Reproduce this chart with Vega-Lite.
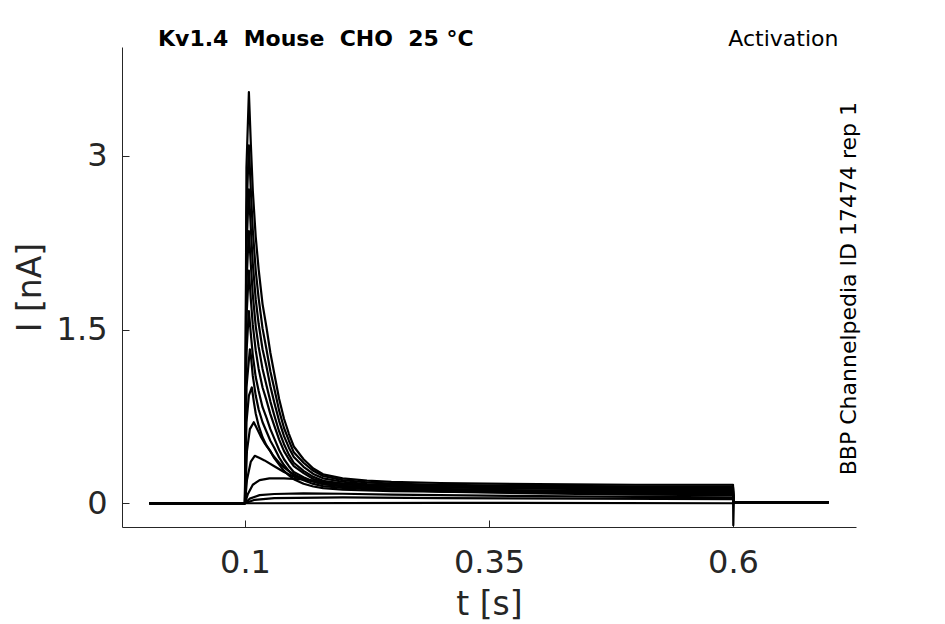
{
  "$schema": "https://vega.github.io/schema/vega-lite/v6.json",
  "description": "Kv1.4 activation current traces",
  "width": 734,
  "height": 480,
  "autosize": {"type": "none"},
  "padding": {"left": 122, "top": 47, "right": 89, "bottom": 97},
  "background": "white",
  "title": {
    "text": "Kv1.4\u00a0\u00a0Mouse\u00a0\u00a0CHO\u00a0\u00a025\u00a0°C",
    "anchor": "start",
    "frame": "group",
    "dx": 36,
    "dy": 40,
    "offset": 0,
    "baseline": "alphabetic",
    "fontSize": 22,
    "fontWeight": "bold",
    "color": "black"
  },
  "layer": [
    {
      "data": {
        "values": [
          {"sweep": 1, "t": 0.002, "I": 0}, {"sweep": 1, "t": 0.1, "I": 0}, {"sweep": 1, "t": 0.1015, "I": 2.9}, {"sweep": 1, "t": 0.104, "I": 3.55},
          {"sweep": 1, "t": 0.106, "I": 3.1}, {"sweep": 1, "t": 0.108, "I": 2.7}, {"sweep": 1, "t": 0.111, "I": 2.3}, {"sweep": 1, "t": 0.114, "I": 2.02},
          {"sweep": 1, "t": 0.118, "I": 1.72}, {"sweep": 1, "t": 0.122, "I": 1.52}, {"sweep": 1, "t": 0.126, "I": 1.3}, {"sweep": 1, "t": 0.13, "I": 1.12},
          {"sweep": 1, "t": 0.135, "I": 0.9}, {"sweep": 1, "t": 0.14, "I": 0.73}, {"sweep": 1, "t": 0.145, "I": 0.6}, {"sweep": 1, "t": 0.15, "I": 0.49},
          {"sweep": 1, "t": 0.16, "I": 0.38}, {"sweep": 1, "t": 0.17, "I": 0.3}, {"sweep": 1, "t": 0.18, "I": 0.25}, {"sweep": 1, "t": 0.2, "I": 0.215},
          {"sweep": 1, "t": 0.225, "I": 0.195}, {"sweep": 1, "t": 0.25, "I": 0.185}, {"sweep": 1, "t": 0.3, "I": 0.175}, {"sweep": 1, "t": 0.4, "I": 0.165},
          {"sweep": 1, "t": 0.5, "I": 0.16}, {"sweep": 1, "t": 0.6, "I": 0.16}, {"sweep": 1, "t": 0.6003, "I": -0.19}, {"sweep": 1, "t": 0.6008, "I": 0.01},
          {"sweep": 1, "t": 0.698, "I": 0.01},

          {"sweep": 2, "t": 0.002, "I": 0}, {"sweep": 2, "t": 0.1, "I": 0}, {"sweep": 2, "t": 0.1015, "I": 2.5}, {"sweep": 2, "t": 0.104, "I": 3.09},
          {"sweep": 2, "t": 0.106, "I": 2.7}, {"sweep": 2, "t": 0.108, "I": 2.36}, {"sweep": 2, "t": 0.111, "I": 2.01}, {"sweep": 2, "t": 0.114, "I": 1.77},
          {"sweep": 2, "t": 0.118, "I": 1.51}, {"sweep": 2, "t": 0.122, "I": 1.33}, {"sweep": 2, "t": 0.126, "I": 1.14}, {"sweep": 2, "t": 0.13, "I": 0.99},
          {"sweep": 2, "t": 0.135, "I": 0.8}, {"sweep": 2, "t": 0.14, "I": 0.65}, {"sweep": 2, "t": 0.145, "I": 0.54}, {"sweep": 2, "t": 0.15, "I": 0.44},
          {"sweep": 2, "t": 0.16, "I": 0.35}, {"sweep": 2, "t": 0.17, "I": 0.28}, {"sweep": 2, "t": 0.18, "I": 0.235}, {"sweep": 2, "t": 0.2, "I": 0.2},
          {"sweep": 2, "t": 0.225, "I": 0.18}, {"sweep": 2, "t": 0.25, "I": 0.17}, {"sweep": 2, "t": 0.3, "I": 0.16}, {"sweep": 2, "t": 0.4, "I": 0.15},
          {"sweep": 2, "t": 0.5, "I": 0.145}, {"sweep": 2, "t": 0.6, "I": 0.145}, {"sweep": 2, "t": 0.6005, "I": 0.01}, {"sweep": 2, "t": 0.698, "I": 0.01},

          {"sweep": 3, "t": 0.002, "I": 0}, {"sweep": 3, "t": 0.1, "I": 0}, {"sweep": 3, "t": 0.1015, "I": 2.2}, {"sweep": 3, "t": 0.104, "I": 2.71},
          {"sweep": 3, "t": 0.106, "I": 2.37}, {"sweep": 3, "t": 0.108, "I": 2.07}, {"sweep": 3, "t": 0.111, "I": 1.76}, {"sweep": 3, "t": 0.114, "I": 1.55},
          {"sweep": 3, "t": 0.118, "I": 1.33}, {"sweep": 3, "t": 0.122, "I": 1.18}, {"sweep": 3, "t": 0.126, "I": 1.01}, {"sweep": 3, "t": 0.13, "I": 0.87},
          {"sweep": 3, "t": 0.135, "I": 0.71}, {"sweep": 3, "t": 0.14, "I": 0.58}, {"sweep": 3, "t": 0.145, "I": 0.48}, {"sweep": 3, "t": 0.15, "I": 0.4},
          {"sweep": 3, "t": 0.16, "I": 0.315}, {"sweep": 3, "t": 0.17, "I": 0.253}, {"sweep": 3, "t": 0.18, "I": 0.215}, {"sweep": 3, "t": 0.2, "I": 0.186},
          {"sweep": 3, "t": 0.225, "I": 0.166}, {"sweep": 3, "t": 0.25, "I": 0.158}, {"sweep": 3, "t": 0.3, "I": 0.151}, {"sweep": 3, "t": 0.4, "I": 0.144},
          {"sweep": 3, "t": 0.5, "I": 0.14}, {"sweep": 3, "t": 0.6, "I": 0.14}, {"sweep": 3, "t": 0.6005, "I": 0.01}, {"sweep": 3, "t": 0.698, "I": 0.01},

          {"sweep": 4, "t": 0.002, "I": 0}, {"sweep": 4, "t": 0.1, "I": 0}, {"sweep": 4, "t": 0.1015, "I": 1.9}, {"sweep": 4, "t": 0.104, "I": 2.35},
          {"sweep": 4, "t": 0.106, "I": 2.06}, {"sweep": 4, "t": 0.108, "I": 1.8}, {"sweep": 4, "t": 0.111, "I": 1.53}, {"sweep": 4, "t": 0.114, "I": 1.35},
          {"sweep": 4, "t": 0.118, "I": 1.16}, {"sweep": 4, "t": 0.122, "I": 1.02}, {"sweep": 4, "t": 0.126, "I": 0.88}, {"sweep": 4, "t": 0.13, "I": 0.76},
          {"sweep": 4, "t": 0.135, "I": 0.62}, {"sweep": 4, "t": 0.14, "I": 0.51}, {"sweep": 4, "t": 0.145, "I": 0.42}, {"sweep": 4, "t": 0.15, "I": 0.35},
          {"sweep": 4, "t": 0.16, "I": 0.28}, {"sweep": 4, "t": 0.17, "I": 0.228}, {"sweep": 4, "t": 0.18, "I": 0.194}, {"sweep": 4, "t": 0.2, "I": 0.17},
          {"sweep": 4, "t": 0.225, "I": 0.152}, {"sweep": 4, "t": 0.25, "I": 0.146}, {"sweep": 4, "t": 0.3, "I": 0.14}, {"sweep": 4, "t": 0.4, "I": 0.133},
          {"sweep": 4, "t": 0.5, "I": 0.13}, {"sweep": 4, "t": 0.6, "I": 0.13}, {"sweep": 4, "t": 0.6005, "I": 0.01}, {"sweep": 4, "t": 0.698, "I": 0.01},

          {"sweep": 5, "t": 0.002, "I": 0}, {"sweep": 5, "t": 0.1, "I": 0}, {"sweep": 5, "t": 0.1015, "I": 1.6}, {"sweep": 5, "t": 0.104, "I": 2.01},
          {"sweep": 5, "t": 0.106, "I": 1.76}, {"sweep": 5, "t": 0.108, "I": 1.54}, {"sweep": 5, "t": 0.111, "I": 1.32}, {"sweep": 5, "t": 0.114, "I": 1.16},
          {"sweep": 5, "t": 0.118, "I": 1.0}, {"sweep": 5, "t": 0.122, "I": 0.89}, {"sweep": 5, "t": 0.126, "I": 0.77}, {"sweep": 5, "t": 0.13, "I": 0.67},
          {"sweep": 5, "t": 0.135, "I": 0.55}, {"sweep": 5, "t": 0.14, "I": 0.45}, {"sweep": 5, "t": 0.145, "I": 0.38}, {"sweep": 5, "t": 0.15, "I": 0.32},
          {"sweep": 5, "t": 0.16, "I": 0.26}, {"sweep": 5, "t": 0.17, "I": 0.21}, {"sweep": 5, "t": 0.18, "I": 0.185}, {"sweep": 5, "t": 0.2, "I": 0.164},
          {"sweep": 5, "t": 0.225, "I": 0.149}, {"sweep": 5, "t": 0.25, "I": 0.143}, {"sweep": 5, "t": 0.3, "I": 0.136}, {"sweep": 5, "t": 0.4, "I": 0.126},
          {"sweep": 5, "t": 0.5, "I": 0.12}, {"sweep": 5, "t": 0.6, "I": 0.118}, {"sweep": 5, "t": 0.6005, "I": 0.01}, {"sweep": 5, "t": 0.698, "I": 0.01},

          {"sweep": 6, "t": 0.002, "I": 0}, {"sweep": 6, "t": 0.1, "I": 0}, {"sweep": 6, "t": 0.1015, "I": 1.3}, {"sweep": 6, "t": 0.104, "I": 1.66},
          {"sweep": 6, "t": 0.106, "I": 1.46}, {"sweep": 6, "t": 0.108, "I": 1.28}, {"sweep": 6, "t": 0.111, "I": 1.09}, {"sweep": 6, "t": 0.114, "I": 0.97},
          {"sweep": 6, "t": 0.118, "I": 0.83}, {"sweep": 6, "t": 0.122, "I": 0.74}, {"sweep": 6, "t": 0.126, "I": 0.64}, {"sweep": 6, "t": 0.13, "I": 0.56},
          {"sweep": 6, "t": 0.135, "I": 0.46}, {"sweep": 6, "t": 0.14, "I": 0.38}, {"sweep": 6, "t": 0.145, "I": 0.32}, {"sweep": 6, "t": 0.15, "I": 0.27},
          {"sweep": 6, "t": 0.16, "I": 0.225}, {"sweep": 6, "t": 0.17, "I": 0.188}, {"sweep": 6, "t": 0.18, "I": 0.165}, {"sweep": 6, "t": 0.2, "I": 0.148},
          {"sweep": 6, "t": 0.225, "I": 0.135}, {"sweep": 6, "t": 0.25, "I": 0.128}, {"sweep": 6, "t": 0.3, "I": 0.12}, {"sweep": 6, "t": 0.4, "I": 0.112},
          {"sweep": 6, "t": 0.5, "I": 0.108}, {"sweep": 6, "t": 0.6, "I": 0.106}, {"sweep": 6, "t": 0.6005, "I": 0.01}, {"sweep": 6, "t": 0.698, "I": 0.01},

          {"sweep": 7, "t": 0.002, "I": 0}, {"sweep": 7, "t": 0.1, "I": 0}, {"sweep": 7, "t": 0.1015, "I": 1.0}, {"sweep": 7, "t": 0.105, "I": 1.33},
          {"sweep": 7, "t": 0.106, "I": 1.28}, {"sweep": 7, "t": 0.108, "I": 1.1}, {"sweep": 7, "t": 0.111, "I": 0.93}, {"sweep": 7, "t": 0.114, "I": 0.81},
          {"sweep": 7, "t": 0.118, "I": 0.7}, {"sweep": 7, "t": 0.122, "I": 0.62}, {"sweep": 7, "t": 0.126, "I": 0.54}, {"sweep": 7, "t": 0.13, "I": 0.48},
          {"sweep": 7, "t": 0.135, "I": 0.395}, {"sweep": 7, "t": 0.14, "I": 0.33}, {"sweep": 7, "t": 0.145, "I": 0.28}, {"sweep": 7, "t": 0.15, "I": 0.24},
          {"sweep": 7, "t": 0.16, "I": 0.198}, {"sweep": 7, "t": 0.17, "I": 0.167}, {"sweep": 7, "t": 0.18, "I": 0.148}, {"sweep": 7, "t": 0.2, "I": 0.133},
          {"sweep": 7, "t": 0.225, "I": 0.122}, {"sweep": 7, "t": 0.25, "I": 0.117}, {"sweep": 7, "t": 0.3, "I": 0.11}, {"sweep": 7, "t": 0.4, "I": 0.104},
          {"sweep": 7, "t": 0.5, "I": 0.1}, {"sweep": 7, "t": 0.6, "I": 0.098}, {"sweep": 7, "t": 0.6005, "I": 0.01}, {"sweep": 7, "t": 0.698, "I": 0.01},

          {"sweep": 8, "t": 0.002, "I": 0}, {"sweep": 8, "t": 0.1, "I": 0}, {"sweep": 8, "t": 0.1015, "I": 0.7}, {"sweep": 8, "t": 0.104, "I": 0.93},
          {"sweep": 8, "t": 0.107, "I": 1.0}, {"sweep": 8, "t": 0.109, "I": 0.88}, {"sweep": 8, "t": 0.111, "I": 0.775}, {"sweep": 8, "t": 0.114, "I": 0.67},
          {"sweep": 8, "t": 0.118, "I": 0.57}, {"sweep": 8, "t": 0.122, "I": 0.5}, {"sweep": 8, "t": 0.126, "I": 0.45}, {"sweep": 8, "t": 0.13, "I": 0.39},
          {"sweep": 8, "t": 0.135, "I": 0.334}, {"sweep": 8, "t": 0.14, "I": 0.28}, {"sweep": 8, "t": 0.145, "I": 0.24}, {"sweep": 8, "t": 0.15, "I": 0.208},
          {"sweep": 8, "t": 0.16, "I": 0.168}, {"sweep": 8, "t": 0.17, "I": 0.145}, {"sweep": 8, "t": 0.18, "I": 0.131}, {"sweep": 8, "t": 0.2, "I": 0.118},
          {"sweep": 8, "t": 0.225, "I": 0.11}, {"sweep": 8, "t": 0.25, "I": 0.105}, {"sweep": 8, "t": 0.3, "I": 0.1}, {"sweep": 8, "t": 0.4, "I": 0.094},
          {"sweep": 8, "t": 0.5, "I": 0.09}, {"sweep": 8, "t": 0.6, "I": 0.088}, {"sweep": 8, "t": 0.6005, "I": 0.01}, {"sweep": 8, "t": 0.698, "I": 0.01},

          {"sweep": 9, "t": 0.002, "I": 0}, {"sweep": 9, "t": 0.1, "I": 0}, {"sweep": 9, "t": 0.102, "I": 0.45}, {"sweep": 9, "t": 0.105, "I": 0.64},
          {"sweep": 9, "t": 0.109, "I": 0.7}, {"sweep": 9, "t": 0.112, "I": 0.65}, {"sweep": 9, "t": 0.116, "I": 0.58}, {"sweep": 9, "t": 0.12, "I": 0.52},
          {"sweep": 9, "t": 0.125, "I": 0.46}, {"sweep": 9, "t": 0.129, "I": 0.41}, {"sweep": 9, "t": 0.135, "I": 0.35}, {"sweep": 9, "t": 0.14, "I": 0.31},
          {"sweep": 9, "t": 0.146, "I": 0.27}, {"sweep": 9, "t": 0.155, "I": 0.23}, {"sweep": 9, "t": 0.163, "I": 0.205}, {"sweep": 9, "t": 0.175, "I": 0.178},
          {"sweep": 9, "t": 0.19, "I": 0.157}, {"sweep": 9, "t": 0.2, "I": 0.147}, {"sweep": 9, "t": 0.225, "I": 0.13}, {"sweep": 9, "t": 0.25, "I": 0.12},
          {"sweep": 9, "t": 0.3, "I": 0.105}, {"sweep": 9, "t": 0.4, "I": 0.092}, {"sweep": 9, "t": 0.5, "I": 0.085}, {"sweep": 9, "t": 0.6, "I": 0.08},
          {"sweep": 9, "t": 0.6005, "I": 0.01}, {"sweep": 9, "t": 0.698, "I": 0.01},

          {"sweep": 10, "t": 0.002, "I": 0}, {"sweep": 10, "t": 0.1, "I": 0}, {"sweep": 10, "t": 0.102, "I": 0.2}, {"sweep": 10, "t": 0.106, "I": 0.36},
          {"sweep": 10, "t": 0.11, "I": 0.41}, {"sweep": 10, "t": 0.115, "I": 0.39}, {"sweep": 10, "t": 0.12, "I": 0.37}, {"sweep": 10, "t": 0.13, "I": 0.32},
          {"sweep": 10, "t": 0.14, "I": 0.27}, {"sweep": 10, "t": 0.15, "I": 0.23}, {"sweep": 10, "t": 0.165, "I": 0.2}, {"sweep": 10, "t": 0.18, "I": 0.17},
          {"sweep": 10, "t": 0.2, "I": 0.15}, {"sweep": 10, "t": 0.25, "I": 0.12}, {"sweep": 10, "t": 0.3, "I": 0.1}, {"sweep": 10, "t": 0.4, "I": 0.085},
          {"sweep": 10, "t": 0.5, "I": 0.075}, {"sweep": 10, "t": 0.6, "I": 0.07}, {"sweep": 10, "t": 0.6005, "I": 0.01}, {"sweep": 10, "t": 0.698, "I": 0.01},

          {"sweep": 11, "t": 0.002, "I": 0}, {"sweep": 11, "t": 0.1, "I": 0}, {"sweep": 11, "t": 0.103, "I": 0.08}, {"sweep": 11, "t": 0.108, "I": 0.16},
          {"sweep": 11, "t": 0.115, "I": 0.2}, {"sweep": 11, "t": 0.125, "I": 0.215}, {"sweep": 11, "t": 0.14, "I": 0.215}, {"sweep": 11, "t": 0.16, "I": 0.205},
          {"sweep": 11, "t": 0.18, "I": 0.185}, {"sweep": 11, "t": 0.2, "I": 0.17}, {"sweep": 11, "t": 0.25, "I": 0.145}, {"sweep": 11, "t": 0.3, "I": 0.125},
          {"sweep": 11, "t": 0.4, "I": 0.1}, {"sweep": 11, "t": 0.5, "I": 0.085}, {"sweep": 11, "t": 0.6, "I": 0.075}, {"sweep": 11, "t": 0.6005, "I": 0.01},
          {"sweep": 11, "t": 0.698, "I": 0.01},

          {"sweep": 12, "t": 0.002, "I": 0}, {"sweep": 12, "t": 0.1, "I": 0}, {"sweep": 12, "t": 0.105, "I": 0.04}, {"sweep": 12, "t": 0.115, "I": 0.07},
          {"sweep": 12, "t": 0.13, "I": 0.08}, {"sweep": 12, "t": 0.16, "I": 0.085}, {"sweep": 12, "t": 0.2, "I": 0.082}, {"sweep": 12, "t": 0.25, "I": 0.075},
          {"sweep": 12, "t": 0.3, "I": 0.07}, {"sweep": 12, "t": 0.4, "I": 0.062}, {"sweep": 12, "t": 0.5, "I": 0.055}, {"sweep": 12, "t": 0.6, "I": 0.05},
          {"sweep": 12, "t": 0.6005, "I": 0.01}, {"sweep": 12, "t": 0.698, "I": 0.01},

          {"sweep": 13, "t": 0.002, "I": 0}, {"sweep": 13, "t": 0.1, "I": 0}, {"sweep": 13, "t": 0.11, "I": 0.03}, {"sweep": 13, "t": 0.13, "I": 0.045},
          {"sweep": 13, "t": 0.2, "I": 0.05}, {"sweep": 13, "t": 0.3, "I": 0.045}, {"sweep": 13, "t": 0.45, "I": 0.04}, {"sweep": 13, "t": 0.6, "I": 0.035},
          {"sweep": 13, "t": 0.6005, "I": 0.01}, {"sweep": 13, "t": 0.698, "I": 0.01},

          {"sweep": 14, "t": 0.002, "I": 0}, {"sweep": 14, "t": 0.1, "I": 0}, {"sweep": 14, "t": 0.3, "I": 0.004}, {"sweep": 14, "t": 0.6, "I": 0},
          {"sweep": 14, "t": 0.6005, "I": 0.01}, {"sweep": 14, "t": 0.698, "I": 0.01}
        ]
      },
      "mark": {"type": "line", "color": "black", "strokeWidth": 2.2, "strokeJoin": "round"},
      "encoding": {
        "x": {
          "field": "t",
          "type": "quantitative",
          "title": "t [s]",
          "scale": {"domain": [-0.026, 0.726], "nice": false, "zero": false},
          "axis": {"values": [0.1, 0.35, 0.6], "format": "~g", "labelPadding": 27, "titlePadding": 10}
        },
        "y": {
          "field": "I",
          "type": "quantitative",
          "title": "I [nA]",
          "scale": {"domain": [-0.205, 3.94], "nice": false, "zero": false},
          "axis": {"values": [0, 1.5, 3], "format": "~g", "labelPadding": 22, "titlePadding": 9}
        },
        "detail": {"field": "sweep", "type": "nominal"}
      }
    },
    {
      "data": {"values": [{"label": "Activation"}]},
      "mark": {"type": "text", "align": "right", "baseline": "alphabetic", "fontSize": 22, "color": "black"},
      "encoding": {
        "x": {"datum": 0.708},
        "y": {"datum": 3.95},
        "text": {"field": "label"}
      }
    },
    {
      "data": {"values": [{"label": "BBP Channelpedia ID 17474 rep 1"}]},
      "mark": {"type": "text", "align": "left", "baseline": "alphabetic", "angle": 270, "fontSize": 22, "color": "black"},
      "encoding": {
        "x": {"datum": 0.7265},
        "y": {"datum": 0.242},
        "text": {"field": "label"}
      }
    }
  ],
  "config": {
    "font": "DejaVu Sans",
    "view": {"stroke": null},
    "axis": {
      "grid": false,
      "domainColor": "#262626",
      "domainWidth": 1,
      "tickColor": "#262626",
      "tickWidth": 1,
      "tickSize": -7,
      "labelFont": "DejaVu Sans",
      "labelFontSize": 32,
      "labelColor": "#262626",
      "titleFont": "DejaVu Sans",
      "titleFontSize": 33,
      "titleFontWeight": "normal",
      "titleColor": "#262626"
    }
  }
}
